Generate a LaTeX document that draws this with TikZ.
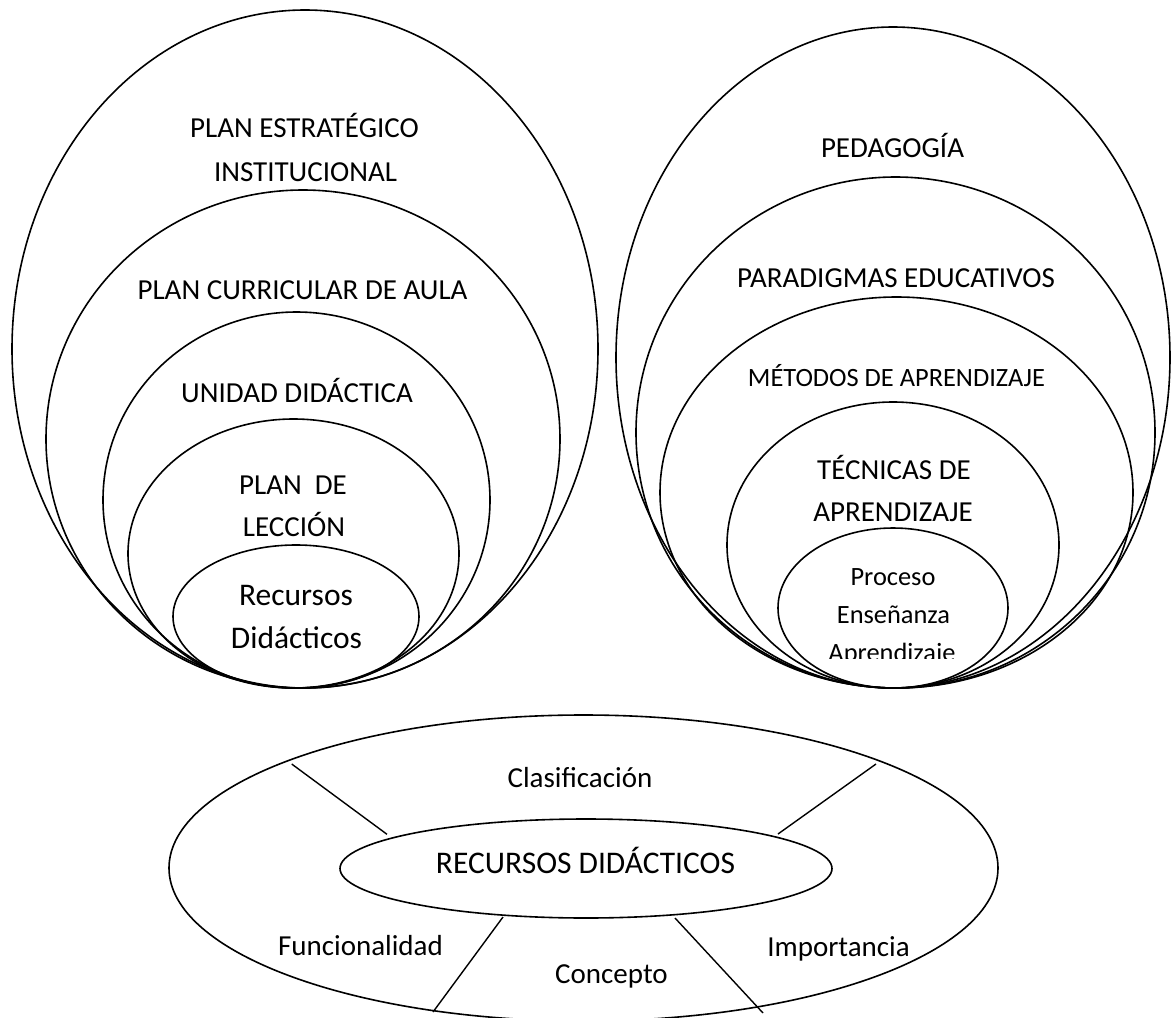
\documentclass[tikz,border=0pt]{standalone}
\usepackage{fontspec}
\setmainfont{Carlito}
\usetikzlibrary{shapes.geometric}
\newcommand{\szA}{\fontsize{29}{35}\selectfont}
\newcommand{\szB}{\fontsize{31.5}{38}\selectfont}
\newcommand{\szC}{\fontsize{26.4}{32}\selectfont}
\begin{document}
\begin{tikzpicture}[x=1pt,y=-1pt,
  ring/.style={draw, ellipse, line width=1.6pt, inner sep=0pt, outer sep=0pt},
  lbl/.style={anchor=base, inner sep=0pt, font=\szA},
  spoke/.style={line width=1.4pt}]
\useasboundingbox (0,0) rectangle (1171,1018);
\fill[white] (0,0) rectangle (1171,1018);
% left group
\node[ring, minimum width=586, minimum height=678] (e1) at (305,349) {};
\node[ring, minimum width=514, minimum height=498] (e2) at (303,439) {};
\node[ring, minimum width=387, minimum height=376] (e3) at (296.5,500) {};
\node[ring, minimum width=331, minimum height=269] (e4) at (293.5,553.5) {};
\node[ring, minimum width=246, minimum height=143] (e5) at (296,616.5) {};
\node[lbl] (t1a) at (304.5,137) {PLAN ESTRATÉGICO};
\node[lbl] (t1b) at (305.5,181) {INSTITUCIONAL};
\node[lbl] (t2) at (302.5,299) {PLAN CURRICULAR DE AULA};
\node[lbl] (t3) at (297,402) {UNIDAD DIDÁCTICA};
\node[lbl] (t4a) at (293,494) {PLAN\ \ DE};
\node[lbl] (t4b) at (294,536) {LECCIÓN};
\node[lbl, font=\szB] (t5a) at (296,605) {Recursos};
\node[lbl, font=\szB] (t5b) at (296.5,648) {Didácticos};
% right group
\node[ring, minimum width=554, minimum height=661] (r1) at (893,357.5) {};
\node[ring, minimum width=519, minimum height=511] (r2) at (895.5,432.5) {};
\node[ring, minimum width=473, minimum height=391] (r3) at (896.5,492.5) {};
\node[ring, minimum width=332, minimum height=286] (r4) at (893,545) {};
\node[ring, minimum width=230, minimum height=160] (r5) at (893,608) {};
\node[lbl] (s1) at (892.5,157) {PEDAGOGÍA};
\node[lbl] (s2) at (896,287) {PARADIGMAS EDUCATIVOS};
\node[lbl, font=\szC] (s3) at (896.5,386.5) {MÉTODOS DE APRENDIZAJE};
\node[lbl] (s4a) at (894,479) {TÉCNICAS DE};
\node[lbl] (s4b) at (893,521) {APRENDIZAJE};
\node[lbl, font=\szC] (s5a) at (893,585.5) {Proceso};
\node[lbl, font=\szC] (s5b) at (893.5,623.5) {Enseñanza};
\begin{scope}
\clip (700,600) rectangle (1100,658);
\node[lbl, font=\szC] (s5c) at (892,661.5) {Aprendizaje};
\end{scope}
% bottom
\node[ring, minimum width=829, minimum height=306] (b1) at (583.5,868) {};
\node[ring, minimum width=492, minimum height=99] (b2) at (586,868.5) {};
\node[lbl] (u1) at (580,787) {Clasificación};
\node[lbl, font=\szB] (u2) at (585.5,873) {RECURSOS DIDÁCTICOS};
\node[lbl] (u3) at (360.5,955) {Funcionalidad};
\node[lbl] (u4) at (611.5,983) {Concepto};
\node[lbl] (u5) at (838.5,956) {Importancia};
\coordinate (ul1) at (291.7,764);
\coordinate (ul2) at (387,834.3);
\coordinate (ur1) at (876,764);
\coordinate (ur2) at (778,834);
\coordinate (ll1) at (503,917);
\coordinate (ll2) at (433,1012);
\coordinate (lr1) at (675,918);
\coordinate (lr2) at (763,1013);
\draw[spoke] (ul1) -- (ul2);
\draw[spoke] (ur1) -- (ur2);
\draw[spoke] (ll1) -- (ll2);
\draw[spoke] (lr1) -- (lr2);
\end{tikzpicture}
\end{document}
